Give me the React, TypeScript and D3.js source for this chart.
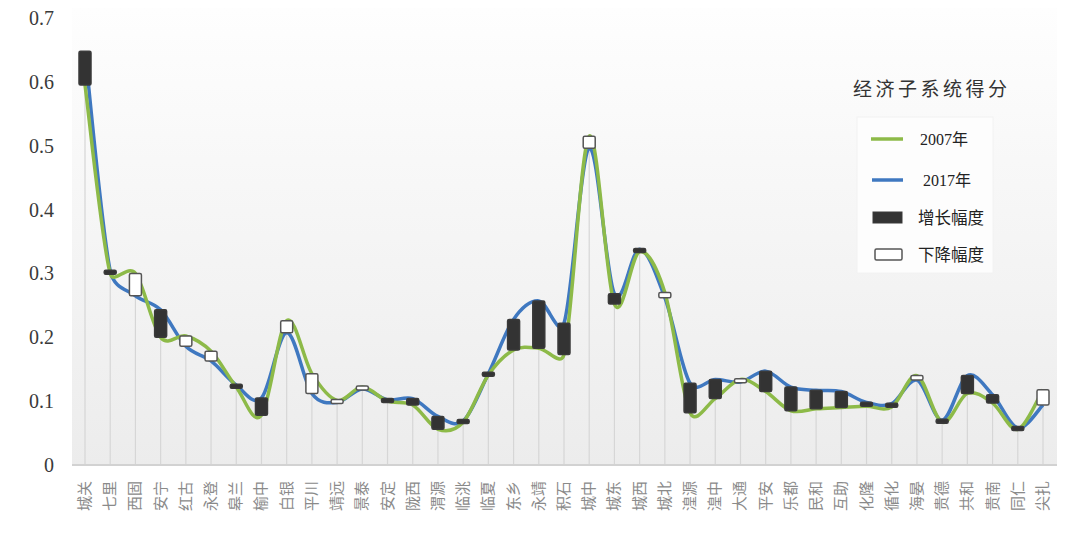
import React from "react";
import * as d3 from "d3";

const categories = [
  "城关", "七里", "西固", "安宁", "红古", "永登", "皋兰", "榆中",
  "白银", "平川", "靖远", "景泰",
  "安定", "陇西", "渭源", "临洮",
  "临夏", "东乡", "永靖", "积石",
  "城中", "城东", "城西", "城北", "湟源", "湟中", "大通",
  "平安", "乐都", "民和", "互助", "化隆", "循化",
  "海晏", "贵德", "共和", "贵南", "同仁", "尖扎",
];

const score2007 = [
  0.595, 0.300, 0.300, 0.200, 0.202, 0.178, 0.122, 0.078,
  0.226, 0.143, 0.101, 0.122,
  0.100, 0.094, 0.056, 0.067,
  0.141, 0.180, 0.183, 0.173,
  0.515, 0.252, 0.334, 0.270, 0.082, 0.104, 0.134,
  0.115, 0.085, 0.088, 0.090, 0.092, 0.091,
  0.140, 0.067, 0.112, 0.097, 0.056, 0.118,
];

const score2017 = [
  0.648, 0.304, 0.265, 0.243, 0.186, 0.163, 0.125, 0.105,
  0.207, 0.112, 0.098, 0.119,
  0.102, 0.104, 0.076, 0.069,
  0.143, 0.228, 0.257, 0.222,
  0.496, 0.268, 0.338, 0.262, 0.128, 0.134, 0.130,
  0.147, 0.122, 0.117, 0.115, 0.098, 0.096,
  0.133, 0.070, 0.140, 0.110, 0.058, 0.094,
];

const yTicks = [0, 0.1, 0.2, 0.3, 0.4, 0.5, 0.6, 0.7];

const legendTitle = "经济子系统得分";
const seriesNames = ["2007年", "2017年"];
const barNames = ["增长幅度", "下降幅度"];

const GREEN = "#8dba48";
const BLUE = "#3f78c0";

type Pt = [number, number];

// Office-style smoothed line: Bezier control points limited to half the segment length
function smoothPath(pts: Pt[]): string {
  const p = d3.path();
  const n = pts.length;
  const dist = (a: Pt, b: Pt) => Math.hypot(a[0] - b[0], a[1] - b[1]);
  p.moveTo(pts[0][0], pts[0][1]);
  for (let i = 0; i < n - 1; i++) {
    const p0 = pts[i - 1] ?? pts[i];
    const p1 = pts[i];
    const p2 = pts[i + 1];
    const p3 = pts[i + 2] ?? pts[i + 1];
    const d12 = dist(p1, p2);
    const d02 = dist(p0, p2);
    const d13 = dist(p1, p3);
    const f1 = d02 > 0 ? Math.min(1 / 6, d12 / (2 * d02)) : 0;
    const f2 = d13 > 0 ? Math.min(1 / 6, d12 / (2 * d13)) : 0;
    const c1: Pt = [p1[0] + (p2[0] - p0[0]) * f1, p1[1] + (p2[1] - p0[1]) * f1];
    const c2: Pt = [p2[0] - (p3[0] - p1[0]) * f2, p2[1] - (p3[1] - p1[1]) * f2];
    p.bezierCurveTo(c1[0], c1[1], c2[0], c2[1], p2[0], p2[1]);
  }
  return p.toString();
}

export default function App() {
  const W = 1080;
  const H = 534;
  const plotLeft = 72;
  const plotRight = 1057;
  const plotTop = 8;
  const x = d3.scalePoint<string>().domain(categories).range([85, 1043]);
  const y = d3.scaleLinear().domain([0, 0.7]).range([465, 18]);

  const toPts = (vals: number[]): Pt[] =>
    vals.map((v, i) => [x(categories[i]) as number, y(v)]);

  const boxW = 12;
  const minH = 4;

  return (
    <svg
      width={W}
      height={H}
      style={{ position: "absolute", left: 0, top: 0, background: "#fff" }}
    >
      <defs>
        <linearGradient id="bg" x1="0" y1="0" x2="0" y2="1">
          <stop offset="0%" stopColor="#fefefe" />
          <stop offset="100%" stopColor="#ececec" />
        </linearGradient>
      </defs>
      <rect
        x={plotLeft}
        y={plotTop}
        width={plotRight - plotLeft}
        height={y(0) - plotTop}
        fill="url(#bg)"
      />

      {/* drop lines */}
      {categories.map((c, i) => (
        <line
          key={"d" + c}
          x1={x(c)}
          x2={x(c)}
          y1={y(Math.max(score2007[i], score2017[i]))}
          y2={y(0)}
          stroke="#d6d6d6"
          strokeWidth={1.2}
        />
      ))}

      {/* axis line */}
      <line x1={plotLeft} x2={plotRight} y1={y(0)} y2={y(0)} stroke="#d2d2d2" strokeWidth={2} />

      {/* y tick labels */}
      {yTicks.map((t) => (
        <text
          key={"t" + t}
          x={54}
          y={y(t)}
          dy="0.35em"
          textAnchor="end"
          fontFamily="Liberation Serif, serif"
          fontSize={20}
          fill="#3a3a3a"
        >
          {t === 0 ? "0" : t.toFixed(1)}
        </text>
      ))}

      {/* x labels */}
      {categories.map((c) => (
        <text
          key={"x" + c}
          transform={`translate(${(x(c) as number) + 5},${481}) rotate(-90)`}
          textAnchor="end"
          fontFamily="Noto Sans CJK SC, sans-serif"
          fontSize={15}
          fill="#8a8a8a"
        >
          {c}
        </text>
      ))}

      {/* lines */}
      <path d={smoothPath(toPts(score2017))} fill="none" stroke={BLUE} strokeWidth={3.5} />
      <path d={smoothPath(toPts(score2007))} fill="none" stroke={GREEN} strokeWidth={3.5} />

      {/* up/down bars */}
      {categories.map((c, i) => {
        const a = score2007[i];
        const b = score2017[i];
        const up = b >= a;
        let top = y(Math.max(a, b));
        let bot = y(Math.min(a, b));
        if (bot - top < minH) {
          const m = (top + bot) / 2;
          top = m - minH / 2;
          bot = m + minH / 2;
        }
        return (
          <rect
            key={"b" + c}
            x={(x(c) as number) - boxW / 2}
            y={top}
            width={boxW}
            height={bot - top}
            rx={1.5}
            fill={up ? "#333333" : "#ffffff"}
            stroke={up ? "#3a3a3a" : "#555555"}
            strokeWidth={1.5}
          />
        );
      })}

      {/* legend */}
      <text
        x={853}
        y={89}
        dy="0.35em"
        fontFamily="Noto Sans CJK SC, sans-serif"
        fontSize={19}
        letterSpacing={3.5}
        fill="#333"
      >
        {legendTitle}
      </text>
      <rect x={857} y={117} width={136} height={156} fill="#fdfdfd" stroke="#f2f2f2" />
      <line x1={871} x2={903} y1={139} y2={139} stroke={GREEN} strokeWidth={3.5} />
      <text x={920} y={139} dy="0.35em" fontFamily="Liberation Serif, Noto Sans CJK SC, serif" fontSize={16} fill="#222">
        {seriesNames[0]}
      </text>
      <line x1={872} x2={903} y1={180} y2={180} stroke={BLUE} strokeWidth={3.5} />
      <text x={923} y={180} dy="0.35em" fontFamily="Liberation Serif, Noto Sans CJK SC, serif" fontSize={16} fill="#222">
        {seriesNames[1]}
      </text>
      <rect x={873} y={212} width={29} height={11} fill="#333" stroke="#3a3a3a" />
      <text x={918} y={218} dy="0.35em" fontFamily="Noto Sans CJK SC, sans-serif" fontSize={16.5} fill="#222">
        {barNames[0]}
      </text>
      <rect x={875} y={249} width={27} height={11} rx={1.5} fill="#fff" stroke="#555" strokeWidth={1.5} />
      <text x={918} y={255} dy="0.35em" fontFamily="Noto Sans CJK SC, sans-serif" fontSize={16.5} fill="#222">
        {barNames[1]}
      </text>
    </svg>
  );
}
